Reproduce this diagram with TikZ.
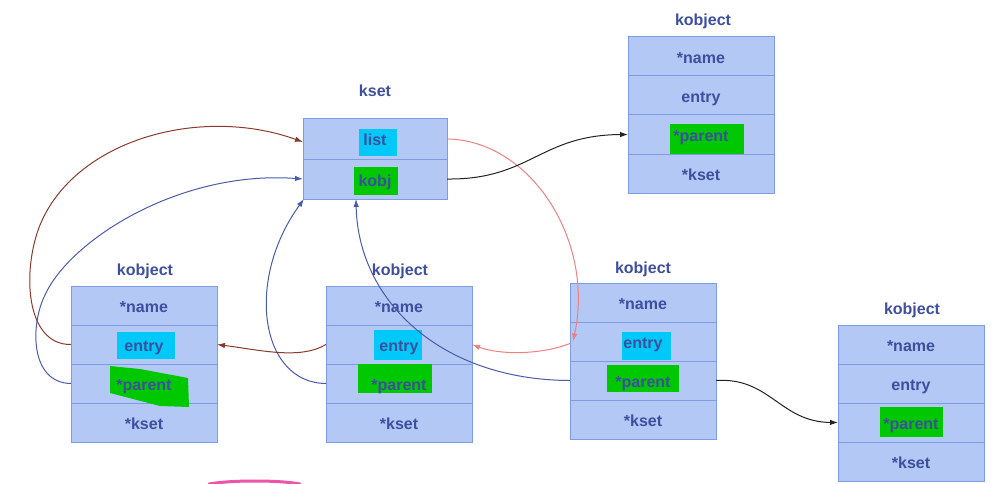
\documentclass[tikz,border=0pt]{standalone}
\usepackage{fontspec}
\setmainfont{Liberation Sans}
\usetikzlibrary{arrows.meta}

\definecolor{cellfill}{HTML}{B4C8F6}
\definecolor{celledge}{HTML}{7E9BE6}
\definecolor{celltext}{HTML}{3D4F9E}
\definecolor{hlcyan}{HTML}{00C8F8}
\definecolor{hlgreen}{HTML}{00C800}
\definecolor{linkbrown}{HTML}{8A3A2C}
\definecolor{linkblue}{HTML}{4A5BAA}
\definecolor{linkpink}{HTML}{EE8080}
\definecolor{linkblack}{HTML}{222222}
\definecolor{markpink}{HTML}{EC55A8}

\tikzset{
  cell/.style={draw=celledge, fill=cellfill, line width=1pt, inner sep=0pt, outer sep=0pt,
    minimum width=146pt, minimum height=39pt},
  kcell/.style={cell, minimum width=144pt, minimum height=40pt},
  txt/.style={text=celltext, font=\fontsize{16}{18}\selectfont\bfseries, inner sep=0pt,
    text height=14pt, text depth=0pt},
  title/.style={txt, text=celltext},
  link/.style={line width=1pt, -{Latex[length=8pt,width=5.5pt]}},
}

% one kobject: four stacked cells #1n, #1e, #1p, #1k with the top-left corner at (#2,#3)
\newcommand\mkobj[3]{%
  \node[cell, anchor=north west] (#1n) at (#2,#3) {};
  \node[cell, anchor=north] (#1e) at (#1n.south) {};
  \node[cell, anchor=north] (#1p) at (#1e.south) {};
  \node[cell, anchor=north] (#1k) at (#1p.south) {};
}
\newcommand\mkobjtext[1]{%
  \node[txt] at (#1n) {*name};
  \node[txt] at (#1e) {entry};
  \node[txt] at (#1p) {*parent};
  \node[txt] at (#1k) {*kset};
}

\begin{document}
\begin{tikzpicture}[x=1pt, y=-1pt]
\useasboundingbox (0,0) rectangle (1003,484);

% cells
\node[kcell, anchor=north west] (ksl) at (303,119) {};
\node[kcell, anchor=north] (ksk) at (ksl.south) {};
\mkobj{A}{628}{37}
\mkobj{B}{71}{286}
\mkobj{C}{326}{286}
\mkobj{D}{570}{283}
\mkobj{E}{838}{325}

% highlighter marks
\fill[hlcyan] (359,129) rectangle (397,156);
\fill[hlgreen] (354,167) rectangle (398,195);
\fill[hlgreen] (670,124) rectangle (744,154);
\fill[hlcyan] (117,332) rectangle (175,359);
\fill[hlgreen] (110,366) -- (140,369) -- (188,378) -- (189,407) -- (160,406) -- (110,393) -- cycle;
\fill[hlcyan] (374,330) rectangle (422,360);
\fill[hlgreen] (358,364) rectangle (432,393);
\fill[hlcyan] (622,332) rectangle (671,360);
\fill[hlgreen] (607,365) rectangle (679,392);
\fill[hlgreen] (880,407) rectangle (943,437);

% texts
\node[txt] at (ksl) {list};
\node[txt] at (ksk) {kobj};
\mkobjtext{A}
\mkobjtext{B}
\mkobjtext{C}
\mkobjtext{D}
\mkobjtext{E}

% titles
\node[title] (tks) at (375,90) {kset};
\node[title] (tA) at (703,19) {kobject};
\node[title] (tB) at (145,268) {kobject};
\node[title] (tC) at (400,268) {kobject};
\node[title] (tD) at (643,266) {kobject};
\node[title] (tE) at (912,307) {kobject};

% links
\coordinate (bendBr) at (40,225);
\coordinate (bendBp) at (45,295);
\draw[link, linkbrown] (Be.west) .. controls (25,345) and (22,270) .. (bendBr)
  .. controls (75,140) and (200,105) .. ([yshift=-3pt]ksl.west);
\draw[link, linkblue] (Bp.west) .. controls (30,383) and (30,325) .. (bendBp)
  .. controls (70,240) and (180,170) .. (ksk.west);
\draw[link, linkblue] (Cp.west) .. controls (260,383) and (245,280) .. ([xshift=1pt]ksk.south west);
\draw[link, linkblue] (Dp.west) .. controls (440,380) and (358,300) .. ([xshift=-19pt]ksk.south);
\draw[link, linkbrown] (Ce.west) .. controls (300,360) and (260,350) .. (Be.east);
\draw[link, linkpink] (ksl.east) .. controls (530,140) and (595,240) .. ([xshift=3pt]De.west);
\draw[link, linkpink] ([yshift=-2pt]De.west) .. controls (540,355) and (500,355) .. (Ce.east);
\draw[link, linkblack] (ksk.east) .. controls (530,180) and (540,135) .. (Ap.west);
\draw[link, linkblack] (Dp.east) .. controls (770,377) and (780,422) .. (Ep.west);

% pink stroke at the bottom edge
\draw[markpink, line width=3pt, line cap=round] (209,484) .. controls (230,480) and (280,480) .. (300,484);
\end{tikzpicture}
\end{document}
